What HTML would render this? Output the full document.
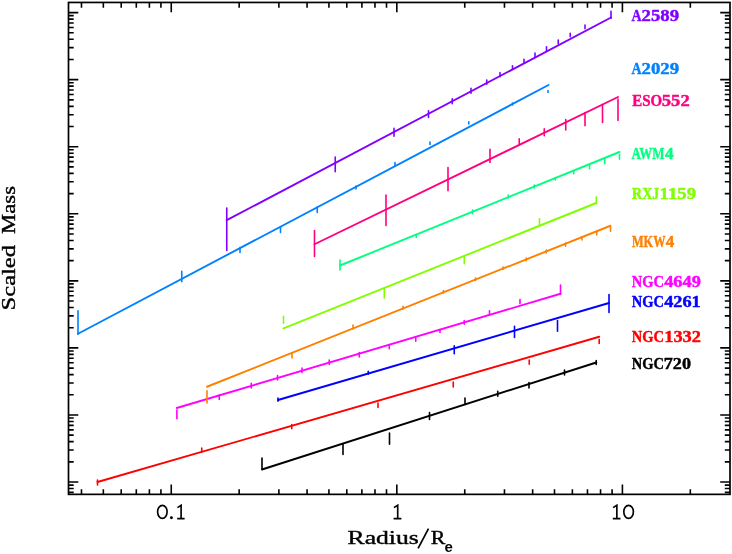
<!DOCTYPE html><html><head><meta charset="utf-8"><title>Scaled Mass vs Radius</title>
<style>html,body{margin:0;padding:0;background:#fff}svg{display:block;opacity:0.999;will-change:transform}text{font-family:"Liberation Serif",serif}.t{font-family:"Liberation Sans",sans-serif}</style></head><body>
<svg width="732" height="554" viewBox="0 0 732 554">
<rect width="732" height="554" fill="#fff"/>
<path d="M81.48 494.35 v-5.2 M81.48 2.45 v5.2 M103.34 494.35 v-5.2 M103.34 2.45 v5.2 M121.21 494.35 v-5.2 M121.21 2.45 v5.2 M136.31 494.35 v-5.2 M136.31 2.45 v5.2 M149.39 494.35 v-5.2 M149.39 2.45 v5.2 M160.93 494.35 v-5.2 M160.93 2.45 v5.2 M171.25 494.35 v-9.8 M171.25 2.45 v9.8 M239.16 494.35 v-5.2 M239.16 2.45 v5.2 M278.88 494.35 v-5.2 M278.88 2.45 v5.2 M307.06 494.35 v-5.2 M307.06 2.45 v5.2 M328.92 494.35 v-5.2 M328.92 2.45 v5.2 M346.79 494.35 v-5.2 M346.79 2.45 v5.2 M361.89 494.35 v-5.2 M361.89 2.45 v5.2 M374.97 494.35 v-5.2 M374.97 2.45 v5.2 M386.51 494.35 v-5.2 M386.51 2.45 v5.2 M396.83 494.35 v-9.8 M396.83 2.45 v9.8 M464.74 494.35 v-5.2 M464.74 2.45 v5.2 M504.46 494.35 v-5.2 M504.46 2.45 v5.2 M532.64 494.35 v-5.2 M532.64 2.45 v5.2 M554.50 494.35 v-5.2 M554.50 2.45 v5.2 M572.37 494.35 v-5.2 M572.37 2.45 v5.2 M587.47 494.35 v-5.2 M587.47 2.45 v5.2 M600.55 494.35 v-5.2 M600.55 2.45 v5.2 M612.09 494.35 v-5.2 M612.09 2.45 v5.2 M622.41 494.35 v-9.8 M622.41 2.45 v9.8 M690.32 494.35 v-5.2 M690.32 2.45 v5.2 M68.5 12.60 h9.8 M730.0 12.60 h-9.8 M68.5 79.66 h9.8 M730.0 79.66 h-9.8 M68.5 59.47 h5.2 M730.0 59.47 h-5.2 M68.5 47.66 h5.2 M730.0 47.66 h-5.2 M68.5 39.29 h5.2 M730.0 39.29 h-5.2 M68.5 32.79 h5.2 M730.0 32.79 h-5.2 M68.5 27.48 h5.2 M730.0 27.48 h-5.2 M68.5 22.99 h5.2 M730.0 22.99 h-5.2 M68.5 19.10 h5.2 M730.0 19.10 h-5.2 M68.5 15.67 h5.2 M730.0 15.67 h-5.2 M68.5 146.72 h9.8 M730.0 146.72 h-9.8 M68.5 126.53 h5.2 M730.0 126.53 h-5.2 M68.5 114.72 h5.2 M730.0 114.72 h-5.2 M68.5 106.35 h5.2 M730.0 106.35 h-5.2 M68.5 99.85 h5.2 M730.0 99.85 h-5.2 M68.5 94.54 h5.2 M730.0 94.54 h-5.2 M68.5 90.05 h5.2 M730.0 90.05 h-5.2 M68.5 86.16 h5.2 M730.0 86.16 h-5.2 M68.5 82.73 h5.2 M730.0 82.73 h-5.2 M68.5 213.78 h9.8 M730.0 213.78 h-9.8 M68.5 193.59 h5.2 M730.0 193.59 h-5.2 M68.5 181.78 h5.2 M730.0 181.78 h-5.2 M68.5 173.41 h5.2 M730.0 173.41 h-5.2 M68.5 166.91 h5.2 M730.0 166.91 h-5.2 M68.5 161.60 h5.2 M730.0 161.60 h-5.2 M68.5 157.11 h5.2 M730.0 157.11 h-5.2 M68.5 153.22 h5.2 M730.0 153.22 h-5.2 M68.5 149.79 h5.2 M730.0 149.79 h-5.2 M68.5 280.84 h9.8 M730.0 280.84 h-9.8 M68.5 260.65 h5.2 M730.0 260.65 h-5.2 M68.5 248.84 h5.2 M730.0 248.84 h-5.2 M68.5 240.47 h5.2 M730.0 240.47 h-5.2 M68.5 233.97 h5.2 M730.0 233.97 h-5.2 M68.5 228.66 h5.2 M730.0 228.66 h-5.2 M68.5 224.17 h5.2 M730.0 224.17 h-5.2 M68.5 220.28 h5.2 M730.0 220.28 h-5.2 M68.5 216.85 h5.2 M730.0 216.85 h-5.2 M68.5 347.90 h9.8 M730.0 347.90 h-9.8 M68.5 327.71 h5.2 M730.0 327.71 h-5.2 M68.5 315.90 h5.2 M730.0 315.90 h-5.2 M68.5 307.53 h5.2 M730.0 307.53 h-5.2 M68.5 301.03 h5.2 M730.0 301.03 h-5.2 M68.5 295.72 h5.2 M730.0 295.72 h-5.2 M68.5 291.23 h5.2 M730.0 291.23 h-5.2 M68.5 287.34 h5.2 M730.0 287.34 h-5.2 M68.5 283.91 h5.2 M730.0 283.91 h-5.2 M68.5 414.96 h9.8 M730.0 414.96 h-9.8 M68.5 394.77 h5.2 M730.0 394.77 h-5.2 M68.5 382.96 h5.2 M730.0 382.96 h-5.2 M68.5 374.59 h5.2 M730.0 374.59 h-5.2 M68.5 368.09 h5.2 M730.0 368.09 h-5.2 M68.5 362.78 h5.2 M730.0 362.78 h-5.2 M68.5 358.29 h5.2 M730.0 358.29 h-5.2 M68.5 354.40 h5.2 M730.0 354.40 h-5.2 M68.5 350.97 h5.2 M730.0 350.97 h-5.2 M68.5 482.02 h9.8 M730.0 482.02 h-9.8 M68.5 461.83 h5.2 M730.0 461.83 h-5.2 M68.5 450.02 h5.2 M730.0 450.02 h-5.2 M68.5 441.65 h5.2 M730.0 441.65 h-5.2 M68.5 435.15 h5.2 M730.0 435.15 h-5.2 M68.5 429.84 h5.2 M730.0 429.84 h-5.2 M68.5 425.35 h5.2 M730.0 425.35 h-5.2 M68.5 421.46 h5.2 M730.0 421.46 h-5.2 M68.5 418.03 h5.2 M730.0 418.03 h-5.2 M68.5 492.41 h5.2 M730.0 492.41 h-5.2 M68.5 488.52 h5.2 M730.0 488.52 h-5.2 M68.5 485.09 h5.2 M730.0 485.09 h-5.2" stroke="#000" stroke-width="1.6" fill="none"/>
<rect x="68.5" y="2.45" width="661.5" height="491.90000000000003" fill="none" stroke="#000" stroke-width="1.7"/>
<g stroke="#000000" fill="none" stroke-linecap="round">
<path d="M262 469.5 L596.25 362.5" stroke-width="1.9"/>
<path d="M262 458 V468.75 M343 443.75 V454.5 M389.5 433 V444.25 M429.5 412.5 V419.5 M465 398 V404.5 M497.75 391.25 V396.25 M529 382.5 V388 M564.5 370 V375 M596.25 360.5 V364.5" stroke-width="1.6"/>
</g>
<g stroke="#ff0000" fill="none" stroke-linecap="round">
<path d="M97.5 482 L599.25 336.75" stroke-width="1.9"/>
<path d="M97.5 480 V485 M201.75 448 V452 M291.75 424.5 V428.75 M378 403 V407.5 M453.25 382 V387 M529.25 360 V364.25 M599.2 339.3 V343.5" stroke-width="1.6"/>
</g>
<g stroke="#0000ff" fill="none" stroke-linecap="round">
<path d="M278 400 L609 303" stroke-width="1.9"/>
<path d="M278 398 V401.25 M368.25 371.25 V374.25 M454.25 345.75 V353.75 M514.5 326.25 V337.5 M557.5 320.5 V331.25 M609 294.5 V312.5" stroke-width="1.6"/>
</g>
<g stroke="#ff00ff" fill="none" stroke-linecap="round">
<path d="M176.75 408 L560.5 293.75" stroke-width="1.9"/>
<path d="M176.9 410 V418.8 M219.25 395 V399.5 M251.25 383.25 V388 M277.5 375.5 V380 M302 368 V372.5 M329.25 360 V364.5 M359.25 352.5 V357 M389.25 344.5 V348.75 M415.75 337 V341.25 M440 329.5 V332.5 M464.25 320.5 V324.25 M489.5 310.75 V315 M520 299.5 V303.75 M560.5 285 V294.5" stroke-width="1.6"/>
</g>
<g stroke="#ff8000" fill="none" stroke-linecap="round">
<path d="M207 386.75 L610.5 225.75" stroke-width="1.9"/>
<path d="M207 390.75 V403 M292 353 V358 M353 325 V329 M403 306.25 V309.25 M443.5 290.5 V293 M475.5 278 V280.5 M503 267 V269.5 M526.25 258 V260.75 M546.25 250 V253 M565.5 243 V246.25 M582 237 V240 M596.75 231.25 V235 M610.5 227 V231.25" stroke-width="1.6"/>
</g>
<g stroke="#80ff00" fill="none" stroke-linecap="round">
<path d="M283.5 328.3 L596.25 203" stroke-width="1.9"/>
<path d="M283.5 316.4 V323.3 M384.25 288 V298 M464.25 257 V263.75 M539.5 218.75 V225 M596.25 197 V203.75" stroke-width="1.6"/>
</g>
<g stroke="#00ff80" fill="none" stroke-linecap="round">
<path d="M340 265.5 L619.5 152" stroke-width="1.9"/>
<path d="M340 260 V270 M416.25 234.5 V237.5 M472.5 210 V213.75 M508.25 195 V198 M534.25 185 V188 M555.25 177.5 V180 M573.75 170.75 V173.75 M589.5 164.5 V168.75 M604.75 159.25 V163.75 M619.5 154.5 V159.25" stroke-width="1.6"/>
</g>
<g stroke="#ff0080" fill="none" stroke-linecap="round">
<path d="M314.5 244.25 L618 97" stroke-width="1.9"/>
<path d="M314.5 230.5 V256.5 M386 195 V225.5 M448 167.5 V190.75 M490 149.25 V162.5 M519.25 138.75 V145 M544.25 128.75 V135.75 M565.75 119.5 V130 M585 112.5 V125.75 M602.5 104.5 V122.5 M618 99 V120.4" stroke-width="1.6"/>
</g>
<g stroke="#0080ff" fill="none" stroke-linecap="round">
<path d="M78 333.75 L548.5 85" stroke-width="1.9"/>
<path d="M78 310.75 V334.25 M181.75 271.25 V281.75 M240 247.5 V252.5 M280.5 227 V232.5 M317.25 207 V212.5 M356 186 V189 M395 162.5 V165.5 M430 142 V144.5 M468.75 121.75 V124 M512.5 103 V105 M548 90.5 V92.5" stroke-width="1.6"/>
</g>
<g stroke="#8000ff" fill="none" stroke-linecap="round">
<path d="M226.75 220.2 L611 17.5" stroke-width="1.9"/>
<path d="M226.75 208 V250.5 M335.25 157 V171.75 M394 128.25 V136.25 M428.5 110.75 V117.5 M452.25 98.75 V103.75 M471 88.25 V93.25 M486.75 80 V84.25 M500 72.5 V76.75 M512.5 65.75 V69.25 M524 59.25 V63 M535 53 V57.5 M546.5 46.75 V51.25 M558.25 40 V43.75 M570.25 33.25 V36.75 M585 25 V28.75 M611 11.25 V18.25" stroke-width="1.6"/>
</g>
<text x="631.53" y="21.3" fill="#8000ff" stroke="#8000ff" stroke-width="0.45" stroke-linejoin="round" font-size="17.5" font-weight="bold" textLength="10.08" lengthAdjust="spacingAndGlyphs">A</text>
<text x="641.63" y="21.3" fill="#8000ff" stroke="#8000ff" stroke-width="0.45" stroke-linejoin="round" font-size="17.5" font-weight="bold" textLength="37.46" lengthAdjust="spacingAndGlyphs">2589</text>
<text x="631.53" y="73.6" fill="#0080ff" stroke="#0080ff" stroke-width="0.45" stroke-linejoin="round" font-size="17.5" font-weight="bold" textLength="10.08" lengthAdjust="spacingAndGlyphs">A</text>
<text x="641.64" y="73.6" fill="#0080ff" stroke="#0080ff" stroke-width="0.45" stroke-linejoin="round" font-size="17.5" font-weight="bold" textLength="37.48" lengthAdjust="spacingAndGlyphs">2029</text>
<text x="632.2" y="105.5" fill="#ff0080" stroke="#ff0080" stroke-width="0.45" stroke-linejoin="round" font-size="17.5" font-weight="bold" textLength="29.9" lengthAdjust="spacingAndGlyphs">ESO</text>
<text x="661.84" y="105.5" fill="#ff0080" stroke="#ff0080" stroke-width="0.45" stroke-linejoin="round" font-size="17.5" font-weight="bold" textLength="27.87" lengthAdjust="spacingAndGlyphs">552</text>
<text x="631.4" y="158.9" fill="#00ff80" stroke="#00ff80" stroke-width="0.45" stroke-linejoin="round" font-size="17.5" font-weight="bold" textLength="33.16" lengthAdjust="spacingAndGlyphs">AWM</text>
<text x="664.96" y="158.9" fill="#00ff80" stroke="#00ff80" stroke-width="0.45" stroke-linejoin="round" font-size="17.5" font-weight="bold" textLength="8.54" lengthAdjust="spacingAndGlyphs">4</text>
<text x="632.0" y="199.3" fill="#80ff00" stroke="#80ff00" stroke-width="0.45" stroke-linejoin="round" font-size="17.5" font-weight="bold" textLength="27.27" lengthAdjust="spacingAndGlyphs">RXJ</text>
<text x="659.64" y="199.3" fill="#80ff00" stroke="#80ff00" stroke-width="0.45" stroke-linejoin="round" font-size="17.5" font-weight="bold" textLength="36.49" lengthAdjust="spacingAndGlyphs">1159</text>
<text x="631.91" y="246.6" fill="#ff8000" stroke="#ff8000" stroke-width="0.45" stroke-linejoin="round" font-size="17.5" font-weight="bold" textLength="33.55" lengthAdjust="spacingAndGlyphs">MKW</text>
<text x="665.76" y="246.6" fill="#ff8000" stroke="#ff8000" stroke-width="0.45" stroke-linejoin="round" font-size="17.5" font-weight="bold" textLength="8.54" lengthAdjust="spacingAndGlyphs">4</text>
<text x="631.81" y="286.8" fill="#ff00ff" stroke="#ff00ff" stroke-width="0.45" stroke-linejoin="round" font-size="17.5" font-weight="bold" textLength="32.19" lengthAdjust="spacingAndGlyphs">NGC</text>
<text x="664.15" y="286.8" fill="#ff00ff" stroke="#ff00ff" stroke-width="0.45" stroke-linejoin="round" font-size="17.5" font-weight="bold" textLength="36.69" lengthAdjust="spacingAndGlyphs">4649</text>
<text x="631.81" y="306.6" fill="#0000ff" stroke="#0000ff" stroke-width="0.45" stroke-linejoin="round" font-size="17.5" font-weight="bold" textLength="32.19" lengthAdjust="spacingAndGlyphs">NGC</text>
<text x="664.15" y="306.6" fill="#0000ff" stroke="#0000ff" stroke-width="0.45" stroke-linejoin="round" font-size="17.5" font-weight="bold" textLength="36.53" lengthAdjust="spacingAndGlyphs">4261</text>
<text x="631.81" y="341.5" fill="#ff0000" stroke="#ff0000" stroke-width="0.45" stroke-linejoin="round" font-size="17.5" font-weight="bold" textLength="32.19" lengthAdjust="spacingAndGlyphs">NGC</text>
<text x="664.24" y="341.5" fill="#ff0000" stroke="#ff0000" stroke-width="0.45" stroke-linejoin="round" font-size="17.5" font-weight="bold" textLength="36.66" lengthAdjust="spacingAndGlyphs">1332</text>
<text x="631.81" y="368.5" fill="#000000" stroke="#000000" stroke-width="0.45" stroke-linejoin="round" font-size="17.5" font-weight="bold" textLength="32.19" lengthAdjust="spacingAndGlyphs">NGC</text>
<text x="663.8" y="368.5" fill="#000000" stroke="#000000" stroke-width="0.45" stroke-linejoin="round" font-size="17.5" font-weight="bold" textLength="27.19" lengthAdjust="spacingAndGlyphs">720</text>
<ellipse cx="162.35" cy="511.8" rx="4.75" ry="6.5" fill="none" stroke="#000" stroke-width="1.65"/>
<circle cx="171.4" cy="517.7" r="1.45" fill="#000"/>
<path d="M177.50 507.6 L181.10 505.3 V518.6 M177.20 518.6 H184.60" fill="none" stroke="#000" stroke-width="1.65" stroke-linejoin="miter"/>
<path d="M393.90 507.6 L397.70 505.3 V518.6 M393.60 518.6 H401.40" fill="none" stroke="#000" stroke-width="1.65" stroke-linejoin="miter"/>
<path d="M613.10 507.6 L616.85 505.3 V518.6 M612.80 518.6 H620.50" fill="none" stroke="#000" stroke-width="1.65" stroke-linejoin="miter"/>
<ellipse cx="628.60" cy="511.8" rx="4.80" ry="6.5" fill="none" stroke="#000" stroke-width="1.65"/>
<text x="347.6" y="543.8" font-size="19.4" fill="#000" stroke="#000" stroke-width="0.4" stroke-linejoin="round" lengthAdjust="spacingAndGlyphs" textLength="71.2">Radius</text>
<path d="M418.1 548.4 L428.5 528.7" stroke="#000" stroke-width="1.7" fill="none"/>
<text x="430.7" y="543.8" font-size="19.4" fill="#000" stroke="#000" stroke-width="0.4" stroke-linejoin="round" lengthAdjust="spacingAndGlyphs" textLength="14.6">R</text>
<text class="t" x="444.6" y="552.1" font-size="15" font-weight="bold" fill="#000">e</text>
<text transform="translate(15.3 310.4) rotate(-90)" font-size="19.4" fill="#000" stroke="#000" stroke-width="0.4" stroke-linejoin="round" lengthAdjust="spacingAndGlyphs" textLength="65.4">Scaled</text>
<text transform="translate(15.3 234.0) rotate(-90)" font-size="19.4" fill="#000" stroke="#000" stroke-width="0.4" stroke-linejoin="round" lengthAdjust="spacingAndGlyphs" textLength="48.0">Mass</text>
</svg></body></html>
